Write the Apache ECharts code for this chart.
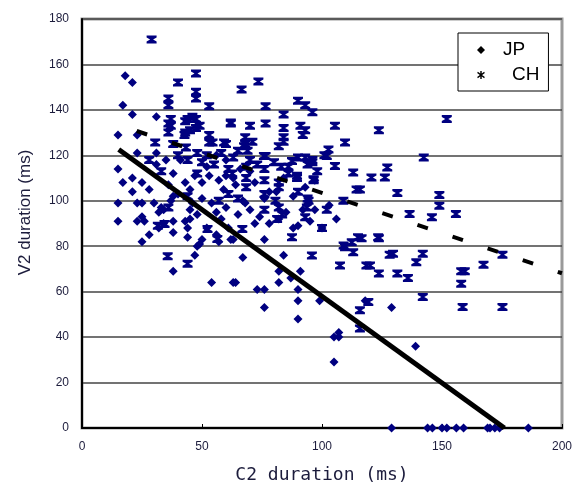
<!DOCTYPE html>
<html>
<head>
<meta charset="UTF-8">
<title>V2 duration vs C2 duration</title>
<script src="https://cdn.jsdelivr.net/npm/echarts@6/dist/echarts.min.js"></script>
<style>
    html, body { margin: 0; padding: 0; background: #fff; }
    #chart { width: 575px; height: 489px; }
</style>
</head>
<body>
<div id="chart"></div>
<script>
// axis setup
const xMin = 0, xMax = 200, xStep = 50;
const yMin = 0, yMax = 180, yStep = 20;

// JP tokens: [C2 duration, V2 duration] (ms)
const jpPoints = [
    [18,155],[21,152],[17,142],[21,138],[31,137],[15,129],[23,129],[23,121],[31,121],[15,114],[21,110],[17,108],
    [25,108],[28,105],[21,104],[31,116],[35,118],
    [15,99],[15,91],[23,99],[25,99],[25,93],[23,91],[26,91],[30,99],[33,97],[32,95],[34,96],[28,85],[25,82],
    [34,90],[32,88],[38,91],[38,86],[37,100],[38,102],[43,91],[45,92],[44,88],[44,84],[46,99],[50,101],[54,99],
    [52,88],[50,83],[49,81],[48,80],[47,76],[56,85],[57,82],[62,83],[54,64],[38,69],[63,64],
    [67,75],[64,64],[73,61],[76,61],[76,53],[82,64],[82,69],[84,76],[87,66],[91,69],[90,61],[90,56],[90,48],
    [99,56],[107,42],[118,56],[76,83],[90,89],[67,100],[68,99],[61,88],[63,83],
    [129,53],[139,36],[105,40],[107,40],[105,29],[100,88],
    [43,108],[45,105],[47,111],[52,115],[53,111],[50,108],[57,109],[59,105],[60,111],[63,110],[64,107],[70,113],
    [72,108],[76,101],[78,104],[81,104],[84,110],[88,102],[93,106],[97,109],[56,120],[60,118],[66,114],[41,118],
    [38,112],[36,107],[40,103],[45,96],[48,94],[56,95],[58,92],[60,97],[65,94],[70,96],[72,90],[74,93],[78,90],
    [82,92],[85,95],[88,88],[92,96],[95,91],[97,96],[103,98],[106,92],
    [129,0],[144,0],[146,0],[150,0],[152,0],[156,0],[159,0],[169,0],[170,0],[172,0],[174,0],[186,0]
];

// CH tokens: [C2 duration, V2 duration] (ms)
const chPoints = [
    [29,171],
    [40,152],[47.5,156],[66.5,149],[73.5,152.5],[47.5,148],[47.5,145],[36,145],[36,142],[76.5,141.6],[53,141.6],
    [90,144],[93,142],[96,139],[84,138],[76.5,134],[62,134],[36,134],[36,130],[43,135],[43,130],[47.5,136],
    [47.5,132],[84,132],[84,128],[70,133],[91,133],[93,131],[92,129],[30.5,125.6],[38,125],[53,129],[53,125.6],
    [60,125],[68,128],[68,125],[75.8,119.7],[82,124],[84,126],[87.5,117.5],[93,119],[96,117],[101,120],[96.5,109],
    [89.6,111],[82,108],[82,106],
    [105.4,133],[109.6,125.6],[102.7,122.6],[102,119.7],[105.4,115.3],[113,112.4],[114.4,105],
    [67.5,124],[69,122],[71,126],[76.5,119.7],[86,115],[90,119],[94,116],[96,118],
    [89.6,110],[96.5,109.5],[76,114],[76,109],[76,103],[76,96],[68.4,115],[68.4,110],[68.4,106],[61,114],[62.6,112],
    [123.7,131],[152,136],[142.4,119],[127.2,114.6],[126.2,110.2],[120.6,110.2],[115.8,105],[131.4,103.4],
    [148.9,102.5],[148.9,97.8],[136.5,94.2],[145.8,92.7],[155.8,94.2],[116.5,83.5],[123.7,83.5],[128.2,76.2],
    [129.6,76.7],[120,71.5],[123.7,68],[131.4,68],[135.8,66],[139.3,73],[142,76.7],[158,69],[159.5,69],[158,63.5],
    [167.3,71.8],[175.2,76.2],[158.6,53.3],[175.2,53.3],[142,57.7],[119.3,55.5],[115.8,51.8],[115.8,43.8],
    [123.4,84],[112.4,81.8],[109,80.3],[107.5,71.5],[118.5,71.5],[109.6,79.6],[113,77.4],[115,84],
    [95.8,75.9],[100,88],[94.4,100],[93.7,97],[93,92.7],[80.6,100],[82,97],[83.4,94],[81.3,92],[87.5,84],
    [35.7,75.6],[44,72.3],[31.6,89],[34.4,89.8],[52.3,87.6],[56.4,83.2],[66.8,87.6],
    [37,136],[37,133],[44,136],[46,137],[49,133],[45,131],[42.7,129],[54.4,125.6],[59.2,125.6],[43.3,123.4],[62,134.5],
    [40,120],[44,118],[48,121],[50,117],[52,120],[55,116],[58,121],[63,119],[65,122],[70,118],[73,116],[80,117],
    [83,115],[86,112],[90,104],[94,101],[98,113],[57,100],[61,103],[65,101],[48,112],[44,102],[36,97],[33,113],
    [28,118],[108.9,100],[102,96]
];

// regression lines (end points)
const jpFit = [[15.3,122.6],[176,0]];
const chFit = [[22.8,130.7],[200,68.1]];

const navy = '#000080';
const hourglass = 'path://M0,0 L10,0 L10,2 L6.5,4 L10,6 L10,8 L0,8 L0,6 L3.5,4 L0,2 Z';
// chunky asterisk for the legend
const asterisk = 'path://M4.1,0 L5.9,0 L5.9,10 L4.1,10 Z M0.2,2.6 L1.1,1.0 L9.8,7.4 L8.9,9.0 Z M0.2,7.4 L8.9,1.0 L9.8,2.6 L1.1,9.0 Z';
const labelColor = '#1c1c3c';

const chart = echarts.init(document.getElementById('chart'));

chart.setOption({
    backgroundColor: '#fff',
    animation: false,
    grid: {
        left: 82, right: 10, top: 19, bottom: 59,
        show: true,
        borderColor: '#9a9a9a',
        borderWidth: 3
    },
    legend: {
        orient: 'vertical',
        left: 458,
        top: 33,
        padding: [7, 9, 6, 19],
        itemGap: 5,
        itemWidth: 8,
        itemHeight: 8,
        borderColor: '#000',
        borderWidth: 1,
        backgroundColor: '#fff',
        textStyle: {
            fontFamily: 'Liberation Sans',
            fontSize: 19,
            lineHeight: 20,
            color: '#000',
            padding: [0, 0, 0, 13]
        },
        data: [
            { name: 'JP', icon: 'diamond', itemStyle: { color: '#000' } },
            { name: 'CH', icon: asterisk, itemStyle: { color: '#000' }, textStyle: { padding: [0, 0, 0, 22] } }
        ]
    },
    xAxis: {
        type: 'value',
        min: xMin, max: xMax, interval: xStep,
        name: 'C2 duration (ms)',
        nameLocation: 'middle',
        nameGap: 38,
        nameTextStyle: { fontFamily: 'DejaVu Sans Mono', fontSize: 18, color: labelColor },
        axisLine: { show: true, lineStyle: { color: '#000', width: 2 } },
        axisTick: { show: true, inside: true, length: 4, lineStyle: { color: '#000', width: 1 } },
        axisLabel: { fontFamily: 'Liberation Sans', fontSize: 12, color: labelColor, margin: 13 },
        splitLine: { show: false }
    },
    yAxis: {
        type: 'value',
        min: yMin, max: yMax, interval: yStep,
        name: 'V2 duration (ms)',
        nameLocation: 'middle',
        nameGap: 48,
        nameTextStyle: { fontFamily: 'Liberation Sans', fontSize: 17, color: labelColor, padding: [0, 0, 0, 22] },
        axisLine: { show: true, lineStyle: { color: '#000', width: 2 } },
        axisTick: { show: false },
        axisLabel: { fontFamily: 'Liberation Sans', fontSize: 12, color: labelColor, margin: 13 },
        splitLine: { show: true, lineStyle: { color: '#444', width: 1.5 } }
    },
    series: [
        {
            name: 'JP',
            type: 'scatter',
            data: jpPoints,
            symbol: 'diamond',
            symbolSize: [9, 9],
            itemStyle: { color: navy, opacity: 1 },
            z: 3
        },
        {
            name: 'CH',
            type: 'scatter',
            data: chPoints,
            symbol: hourglass,
            symbolSize: [10, 8],
            itemStyle: { color: navy, opacity: 1 },
            z: 3
        },
        {
            name: 'JP fit',
            type: 'line',
            data: jpFit,
            symbol: 'none',
            lineStyle: { color: '#000', width: 5 },
            z: 5
        },
        {
            name: 'CH fit',
            type: 'line',
            data: chFit,
            symbol: 'none',
            lineStyle: { color: '#000', width: 4, type: [11, 26] },
            z: 5
        }
    ]
});
</script>
</body>
</html>
